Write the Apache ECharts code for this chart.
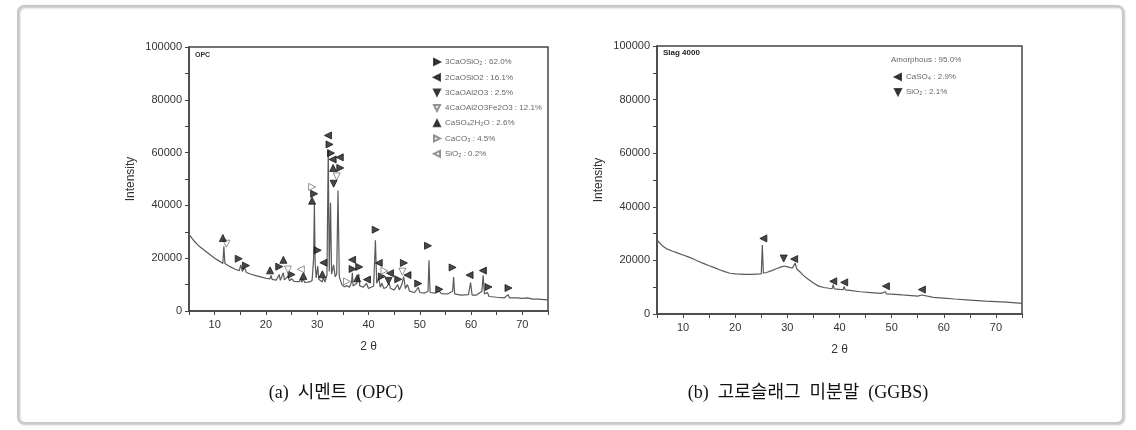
<!DOCTYPE html>
<html><head><meta charset="utf-8">
<script src="https://cdn.jsdelivr.net/npm/echarts@6/dist/echarts.min.js"></script>
<style>html,body{margin:0;padding:0;background:#fff}#c{width:1136px;height:430px}</style>
</head><body><div id="c"></div>
<script>
// ---------- OPC (a) ----------
const opcTheta = [5,6,7,8,9,10,11,11.6,11.8,12,12.3,13,14,14.8,15.1,15.4,15.8,16.2,17,18,19,20,20.8,21,21.2,22,22.6,22.8,23.4,23.6,24.3,24.6,25,25.5,26.5,26.8,27,27.3,27.6,28.5,29,29.3,29.45,29.6,29.8,30.1,30.3,31,31.2,31.5,31.9,32.15,32.35,32.6,32.8,33.2,33.5,33.8,34.05,34.3,34.8,35.3,35.8,36.3,36.7,36.85,37,37.7,38.1,38.3,39,39.6,40,41,41.35,41.6,42,42.3,42.6,43,43.5,44,44.3,45,45.7,46,46.5,46.85,47.2,47.6,48,49,49.7,50,51,51.6,51.8,52,53,53.8,54.2,55.5,56.4,56.6,56.8,58,59.5,59.9,60.2,61,62.1,62.35,62.6,63.2,63.5,65,66.5,67.2,67.5,69,70,71,72,73,75];
const opcIntensity = [29000,26500,24500,23000,21500,20000,18800,18000,24500,18000,17500,16800,15800,15300,17500,15000,16500,14600,14000,13400,12900,12400,12200,13500,12000,11700,13800,11600,14500,11800,13200,11400,12200,11200,11100,12300,10900,12000,10800,11000,11500,20000,40600,18000,12500,17000,12000,11000,12800,11000,13500,61000,15000,41000,14000,17500,13000,14000,45600,13000,10000,9200,9600,9000,11000,14500,9500,10500,14000,9500,9000,10500,8500,9500,26800,10500,12500,9000,10500,8500,9000,10500,8500,8000,10000,8000,10000,13000,8500,10000,7500,7000,9000,7000,6800,7500,19200,7000,6800,7500,6600,6500,7500,12900,6500,6000,6200,10800,6000,6000,7500,13500,6500,7000,5500,5200,5000,6200,5000,5000,4800,5000,4500,4500,4200];

// phase markers: [2θ, intensity]
const opcC3S   = [[14.7,19800],[16.1,17200],[22.6,16800],[25.0,13800],[29.4,44400],[30.1,23000],[32.4,63100],[32.7,59800],[34.5,54200],[36.9,15900],[38.2,16700],[41.4,30800],[42.6,13100],[45.8,12000],[46.9,18200],[49.7,10400],[51.6,24700],[53.8,8200],[56.4,16500],[63.4,9100],[67.3,8700]];
const opcC2S   = [[31.2,18300],[32.1,66500],[33.0,57400],[34.4,58200],[36.8,19400],[39.7,11900],[42.0,18200],[44.2,14300],[47.6,13600],[59.7,13600],[62.3,15300]];
const opcC3A   = [[33.2,48200],[43.9,11400]];
const opcC4AF  = [[12.3,25500],[24.3,15700],[33.8,51000],[46.6,14900]];
const opcGyp   = [[11.6,27650],[20.8,15400],[23.4,19400],[27.3,13300],[29.0,41800],[31.0,13900],[33.1,54200],[37.8,12400]];
const opcCaCO3 = [[29.0,47000],[35.8,11200],[43.1,15200]];
const opcSiO2  = [[26.8,15800]];
const opcNames = ['3CaOSiO₂ : 62.0%','2CaOSiO2 : 16.1%','3CaOAl2O3 : 2.5%','4CaOAl2O3Fe2O3 : 12.1%','CaSO₄2H₂O : 2.6%','CaCO₃ : 4.5%','SiO₂ : 0.2%'];

// ---------- Slag (b) ----------
const slagTheta = [5,6,7,8,9,10,11,12,13,14,15,16,17,18,19,20,21,22,23,24,25,25.2,25.4,25.6,26,27,28,29,29.5,30,30.5,31,31.3,31.5,31.8,32.5,33,34,35,36,37,38,38.6,38.8,39,40,40.7,40.9,41.1,42,44,46,48,48.8,49,50,52,55,55.8,56,58,60,62,65,68,70,72,75];
const slagIntensity = [27600,25500,24200,23400,22700,22000,21300,20500,19600,18800,18000,17300,16500,15800,15200,15000,14900,14800,14800,14900,15000,25700,15200,15300,15500,16200,17000,17700,17900,17600,17300,17200,17400,19000,16800,15600,14500,13000,11600,10400,9900,9600,9500,11000,9400,9200,9100,10300,9000,8800,8300,8000,7700,8300,7500,7400,7100,6700,7100,6500,6200,5900,5600,5200,4800,4600,4400,4000];
const slagCaSO4 = [[25.4,28200],[31.3,20500],[38.8,12200],[40.9,11800],[48.9,10400],[55.8,9100]];
const slagSiO2  = [[29.3,20700]];
const slagNames = ['CaSO₄ : 2.9%','SiO₂ : 2.1%'];

const xTicks = [10,20,30,40,50,60,70];
const yTicks = [0,20000,40000,60000,80000,100000];

function pairs(xs, ys){ return xs.map((x,i)=>[x, ys[i]]); }

const chart = echarts.init(document.getElementById('c'), null, {renderer:'canvas'});
const font = 'Liberation Sans, Arial, sans-serif';
const grids = [
  {left:189, top:47, width:359, height:264, show:true, borderColor:'#444', borderWidth:1.5, backgroundColor:'transparent'},
  {left:657, top:46, width:365, height:268, show:true, borderColor:'#444', borderWidth:1.5, backgroundColor:'transparent'}
];
function xAxis(i){ return {type:'value', gridIndex:i, min:5, max:75, interval:5, name:'2 θ', nameLocation:'middle', nameGap:30,
  nameTextStyle:{fontFamily:font, fontSize:12, color:'#333'},
  axisLine:{show:true, lineStyle:{color:'#444', width:1.5}}, axisTick:{show:true, length:4, lineStyle:{color:'#444'}},
  axisLabel:{fontFamily:font, fontSize:11, color:'#333', margin:8, formatter:v=>xTicks.includes(v)?String(v):''},
  splitLine:{show:false}}; }
function yAxis(i, gap){ return {type:'value', gridIndex:i, min:0, max:100000, interval:10000, name:'Intensity', nameLocation:'middle', nameGap:gap,
  nameTextStyle:{fontFamily:font, fontSize:12, color:'#333'},
  axisLine:{show:true, lineStyle:{color:'#444', width:1.5}}, axisTick:{show:true, length:4, lineStyle:{color:'#444'}},
  axisLabel:{fontFamily:font, fontSize:11, color:'#333', margin:7, formatter:v=>yTicks.includes(v)?String(v):''},
  splitLine:{show:false}}; }

const TRI = {
  up:'path://M5,0L10,10L0,10Z',
  down:'path://M0,0L10,0L5,10Z',
  right:'path://M0,0L10,5L0,10Z',
  left:'path://M10,0L0,5L10,10Z'
};
function mk(name, data, xi, dir, empty){
  const color = empty ? '#fff' : '#1a1a1a';
  const border = empty ? '#777' : '#1a1a1a';
  return {name, type:'scatter', xAxisIndex:xi, yAxisIndex:xi, data, symbol:TRI[dir], symbolSize:[7,7],
    itemStyle:{color, borderColor:border, borderWidth:1}, z:5, silent:true};
}
const series = [
  {type:'line', xAxisIndex:0, yAxisIndex:0, data:pairs(opcTheta, opcIntensity), showSymbol:false, lineStyle:{color:'#5a5a5a', width:1.2}, z:3},
  mk(opcNames[0], opcC3S, 0, 'right', false),
  mk(opcNames[1], opcC2S, 0, 'left', false),
  mk(opcNames[2], opcC3A, 0, 'down', false),
  mk(opcNames[3], opcC4AF, 0, 'down', true),
  mk(opcNames[4], opcGyp, 0, 'up', false),
  mk(opcNames[5], opcCaCO3, 0, 'right', true),
  mk(opcNames[6], opcSiO2, 0, 'left', true),
  {type:'line', xAxisIndex:1, yAxisIndex:1, data:pairs(slagTheta, slagIntensity), showSymbol:false, lineStyle:{color:'#5a5a5a', width:1.2}, z:3},
  mk(slagNames[0], slagCaSO4, 1, 'left', false),
  mk(slagNames[1], slagSiO2, 1, 'down', false)
];
const legendText = {fontFamily:font, fontSize:8, color:'#666'};
chart.setOption({
  animation:false,
  backgroundColor:'#fff',
  grid:grids,
  xAxis:[xAxis(0), xAxis(1)],
  yAxis:[yAxis(0,52), yAxis(1,52)],
  legend:[
    {data:opcNames, orient:'vertical', left:428, top:53, itemWidth:6, itemHeight:6, itemGap:7.3, textStyle:legendText, selectedMode:false},
    {data:slagNames, orient:'vertical', left:889, top:68, itemWidth:6, itemHeight:6, itemGap:7, textStyle:legendText, selectedMode:false}
  ],
  graphic:[
    {type:'rect', shape:{x:18, y:6, width:1105, height:417, r:6}, style:{fill:'none', stroke:'#c8c8c8', lineWidth:2, shadowBlur:2, shadowOffsetX:1, shadowOffsetY:1, shadowColor:'rgba(0,0,0,0.25)'}, z:-1},
    {type:'text', left:195, top:52, style:{text:'OPC', font:'bold 7px '+font, fill:'#333'}},
    {type:'text', left:663, top:49, style:{text:'Slag 4000', font:'bold 8px '+font, fill:'#222'}},
    {type:'text', left:891, top:56, style:{text:'Amorphous : 95.0%', font:'8px '+font, fill:'#666'}},
    {type:'text', x:336, y:393, style:{text:'(a)  시멘트  (OPC)', font:'18px "Liberation Serif", "Noto Sans CJK KR", serif', fill:'#111', align:'center', verticalAlign:'middle'}},
    {type:'text', x:808, y:393, style:{text:'(b)  고로슬래그  미분말  (GGBS)', font:'18px "Liberation Serif", "Noto Sans CJK KR", serif', fill:'#111', align:'center', verticalAlign:'middle'}}
  ],
  series
});
</script></body></html>
